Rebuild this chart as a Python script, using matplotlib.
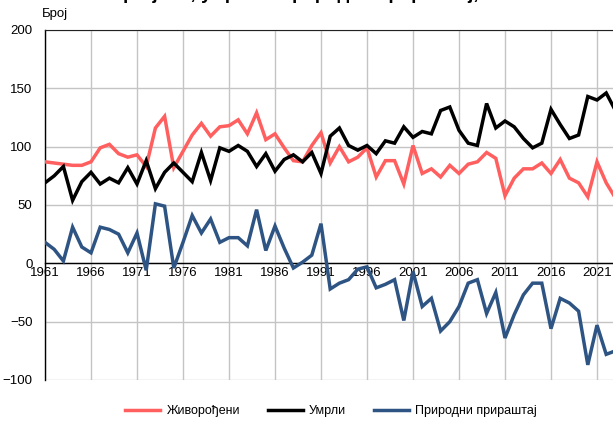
import matplotlib
matplotlib.use("Agg")
import matplotlib.pyplot as plt

plt.rcParams["font.family"] = ["Liberation Sans", "DejaVu Sans"]

years = list(range(1961, 2024))

births = [87, 86, 85, 84, 84, 87, 99, 102, 94, 91, 93, 83, 116, 126, 82, 96,
          110, 120, 109, 117, 118, 123, 111, 129, 106, 111, 99, 88, 87, 101,
          112, 86, 100, 87, 91, 99, 74, 88, 88, 68, 101, 77, 81, 74, 84, 77,
          85, 87, 95, 90, 58, 73, 81, 81, 86, 77, 89, 73, 69, 57, 87, 69, 56]

deaths = [69, 75, 83, 54, 70, 78, 68, 73, 69, 82, 68, 88, 64, 78, 86, 78,
          70, 95, 71, 99, 96, 101, 96, 83, 94, 79, 89, 93, 87, 95, 77, 109,
          116, 101, 97, 101, 94, 105, 103, 117, 108, 113, 111, 131, 134, 114,
          103, 101, 137, 116, 122, 117, 107, 99, 103, 132, 119, 107, 110, 143,
          140, 146, 131]

increase = [18, 12, 2, 31, 14, 9, 31, 29, 25, 9, 26, -6, 51, 49, -4, 18,
            41, 26, 38, 18, 22, 22, 15, 46, 11, 32, 13, -4, 1, 7, 34, -22,
            -17, -14, -5, -3, -21, -18, -14, -49, -7, -37, -30, -58, -50, -37,
            -17, -14, -43, -25, -64, -44, -27, -17, -17, -56, -30, -34, -41,
            -87, -53, -78, -75]

labels = ["Живорођени", "Умрли", "Природни прираштај"]
colors = ["#ff5f5f", "#000000", "#2e5483"]

fig = plt.figure(figsize=(6.13, 4.21), dpi=100)
ax = fig.add_axes([45 / 613, 1 - 380 / 421, 570.4 / 613, 350 / 421])

for series, label, color in zip([births, deaths, increase], labels, colors):
    ax.plot(years, series, color=color, linewidth=2.5, label=label,
            solid_joinstyle="miter", zorder=3)

ax.set_xlim(1961, 2023)
ax.set_ylim(-100, 200)
ax.set_xticks(list(range(1961, 2023, 5)))
ax.set_yticks([-100, -50, 0, 50, 100, 150, 200])
ax.grid(True, color="#c4c4c4", linewidth=1)
ax.set_axisbelow(True)

# x axis sits on the zero line
ax.spines["bottom"].set_position(("data", 0))
ax.spines["bottom"].set_linewidth(1)
ax.spines["left"].set_linewidth(1)
ax.spines["top"].set_color("#222222")
ax.spines["right"].set_visible(False)
ax.tick_params(axis="both", length=0, labelsize=9.5)
ax.tick_params(axis="x", pad=3)
ax.tick_params(axis="y", pad=9)

fig.text(42 / 613, 1 - 14 / 421, "Број", fontsize=9.5, va="center", ha="left")
# title is mostly cropped above the image in the reference
fig.text(275 / 613, 1 + 1 / 421, "Живорођени, умрли и природни прираштај,",
         fontsize=13.5, fontweight="bold", ha="center", va="baseline")

ax.legend(loc="center", ncol=3, frameon=False, fontsize=9,
          handlelength=2.8, columnspacing=2.2, handletextpad=0.5,
          bbox_to_anchor=(331 / 613, 1 - 411 / 421),
          bbox_transform=fig.transFigure)

fig.savefig("out.png", dpi=100)
